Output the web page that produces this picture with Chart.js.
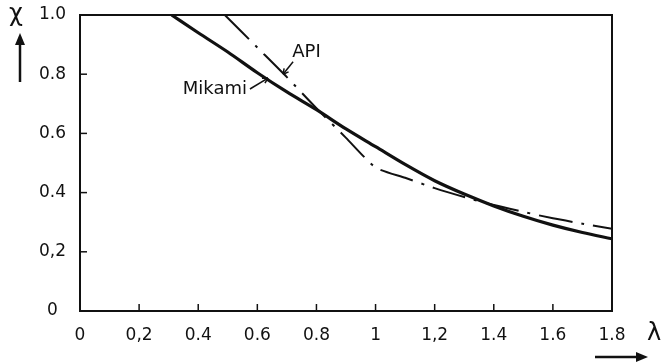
<!DOCTYPE html>
<html>
<head>
<meta charset="utf-8">
<script src="https://cdn.jsdelivr.net/npm/chart.js@4.4.1/dist/chart.umd.min.js"></script>
<style>
  html, body { margin: 0; padding: 0; background: #fff; }
  #wrap { width: 661px; height: 363px; }
</style>
</head>
<body>
<div id="wrap"><canvas id="canvas_chart"></canvas></div>
<script>
// values (lambda -> chi)
const mikamiLambda = [0.31, 0.4, 0.5, 0.6, 0.7, 0.8, 0.9, 1.0, 1.1, 1.2, 1.3, 1.4, 1.5, 1.6, 1.7, 1.8];
const mikamiChi = [1.0, 0.94, 0.875, 0.805, 0.74, 0.68, 0.615, 0.555, 0.495, 0.44, 0.395, 0.355, 0.32, 0.29, 0.265, 0.244];
const apiLambda = [0.49, 0.6, 0.7, 0.8, 0.9, 1.0, 1.1, 1.2, 1.3, 1.4, 1.5, 1.6, 1.7, 1.8];
const apiChi = [1.0, 0.89, 0.79, 0.685, 0.585, 0.485, 0.45, 0.415, 0.385, 0.358, 0.335, 0.313, 0.295, 0.278];
const xTickLabels = ["0", "0,2", "0.4", "0.6", "0.8", "1", "1,2", "1.4", "1.6", "1.8"];
const yTickLabels = ["0", "0,2", "0.4", "0.6", "0.8", "1.0"];

const ink = "#111";
const font = '"DejaVu Sans", sans-serif';

function pts(xs, ys) {
  return xs.map((v, i) => ({ x: v, y: ys[i] }));
}

function line(ctx, x1, y1, x2, y2) {
  ctx.beginPath(); ctx.moveTo(x1, y1); ctx.lineTo(x2, y2); ctx.stroke();
}

// frame, inward ticks, symbols and labels
const decor = {
  id: "decor",
  afterDraw(chart) {
    const { ctx, chartArea: a, scales: { x, y } } = chart;
    ctx.save();
    ctx.strokeStyle = ink;
    ctx.fillStyle = ink;
    ctx.lineWidth = 2;
    ctx.strokeRect(a.left, a.top, a.right - a.left, a.bottom - a.top);

    ctx.lineWidth = 1.5;
    x.ticks.forEach((t, i) => {
      if (i == 0 || i == x.ticks.length - 1) return;
      const px = x.getPixelForValue(t.value);
      line(ctx, px, a.bottom, px, a.bottom - 7);
    });
    y.ticks.forEach((t, i) => {
      if (i == 0 || i == y.ticks.length - 1) return;
      const py = y.getPixelForValue(t.value);
      line(ctx, a.left, py, a.left + 7, py);
    });

    // axis symbols
    ctx.font = "24px " + font;
    ctx.textAlign = "center";
    ctx.textBaseline = "middle";
    ctx.fillText("χ", 16, 15);
    ctx.fillText("λ", 654, 334);
    ctx.lineWidth = 2.5;
    line(ctx, 20, 82, 20, 42);
    ctx.beginPath(); ctx.moveTo(20, 33); ctx.lineTo(15, 45); ctx.lineTo(25, 45); ctx.closePath(); ctx.fill();
    line(ctx, 595, 357, 638, 357);
    ctx.beginPath(); ctx.moveTo(648, 357); ctx.lineTo(636, 352); ctx.lineTo(636, 362); ctx.closePath(); ctx.fill();

    // curve labels with leaders
    ctx.font = "18px " + font;
    ctx.textAlign = "left";
    ctx.fillText("API", x.getPixelForValue(0.718), y.getPixelForValue(0.875));
    ctx.textAlign = "right";
    ctx.fillText("Mikami", x.getPixelForValue(0.565), y.getPixelForValue(0.75));
    ctx.lineWidth = 1.5;
    const leaders = [[0.721, 0.842, 0.687, 0.80], [0.575, 0.75, 0.636, 0.787]];
    leaders.forEach(l => {
      const x1 = x.getPixelForValue(l[0]), y1 = y.getPixelForValue(l[1]);
      const x2 = x.getPixelForValue(l[2]), y2 = y.getPixelForValue(l[3]);
      line(ctx, x1, y1, x2, y2);
      const ang = Math.atan2(y2 - y1, x2 - x1);
      line(ctx, x2, y2, x2 - 6 * Math.cos(ang - 0.5), y2 - 6 * Math.sin(ang - 0.5));
      line(ctx, x2, y2, x2 - 6 * Math.cos(ang + 0.5), y2 - 6 * Math.sin(ang + 0.5));
    });
    ctx.restore();
  }
};

const getCanvas = document.getElementById("canvas_chart");
let configChart = {
  type: "line",
  data: {
    datasets: [
      {
        label: "Mikami",
        data: pts(mikamiLambda, mikamiChi),
        borderColor: ink,
        borderWidth: 3.2,
        pointRadius: 0,
        cubicInterpolationMode: "monotone"
      },
      {
        label: "API",
        data: pts(apiLambda, apiChi),
        borderColor: ink,
        borderWidth: 2,
        borderDash: [34, 9, 3, 9],
        pointRadius: 0,
        tension: 0.2
      }
    ]
  },
  options: {
    responsive: true,
    maintainAspectRatio: false,
    animation: false,
    layout: { padding: { top: 15, right: 49, bottom: 0, left: 0 } },
    plugins: { legend: { display: false }, tooltip: { enabled: false } },
    scales: {
      x: {
        type: "linear",
        min: 0, max: 1.8,
        afterFit(s) { s.height = 52; s.paddingLeft = 0; s.paddingRight = 0; },
        grid: { display: false, drawTicks: false },
        border: { display: false },
        ticks: {
          stepSize: 0.2,
          padding: 14,
          color: ink,
          font: { family: font, size: 17 },
          maxRotation: 0,
          autoSkip: false,
          callback: (v, i) => xTickLabels[i]
        }
      },
      y: {
        min: 0, max: 1.0,
        afterFit(s) { s.width = 80; s.paddingTop = 0; s.paddingBottom = 0; },
        grid: { display: false, drawTicks: false },
        border: { display: false },
        ticks: {
          stepSize: 0.2,
          padding: 14,
          crossAlign: "center",
          color: ink,
          font: { family: font, size: 17 },
          callback: (v, i) => yTickLabels[i]
        }
      }
    }
  },
  plugins: [decor]
};
const canvas_chart = new Chart(getCanvas, configChart);
</script>
</body>
</html>
